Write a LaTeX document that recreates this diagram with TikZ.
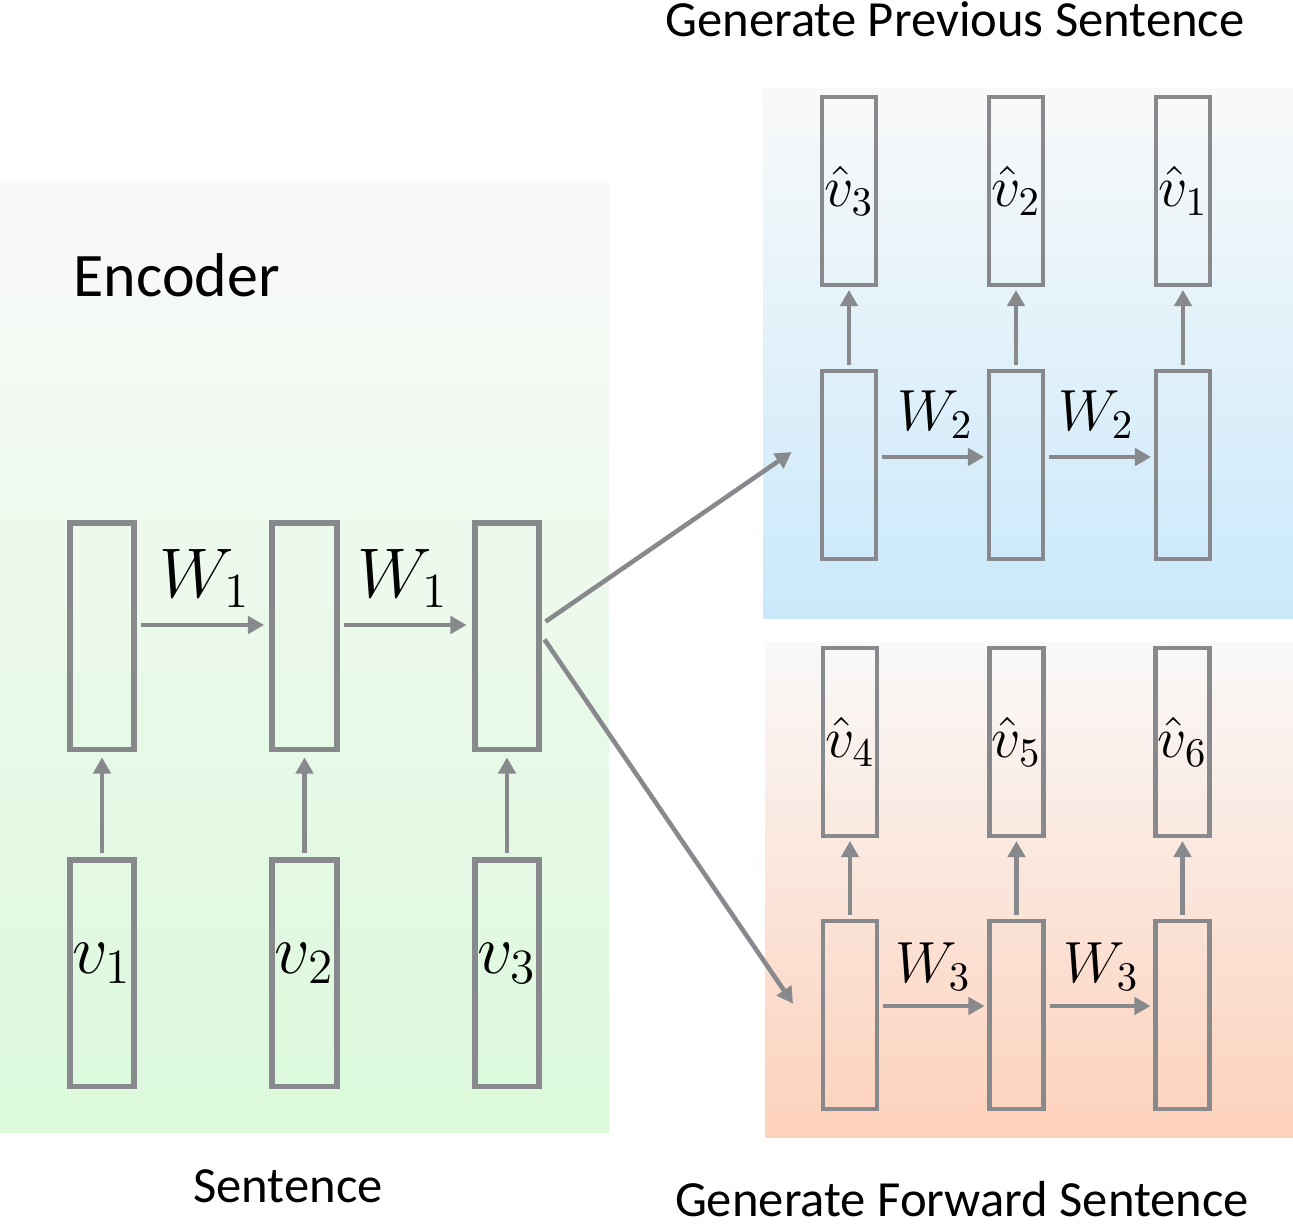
\RequirePackage{fix-cm}
\documentclass[tikz,border=0pt]{standalone}
\usepackage{fontspec}
\setmainfont{Carlito}
\usetikzlibrary{arrows.meta}

\definecolor{boxgray}{RGB}{135,137,140}
\definecolor{paletop}{RGB}{249,249,249}
\definecolor{encgreen}{RGB}{219,249,219}
\definecolor{prevblue}{RGB}{201,233,251}
\definecolor{fwdpeach}{RGB}{253,209,187}

\tikzset{
  encbox/.style={draw=boxgray, line width=1.6pt, inner sep=0pt,
    minimum width=0.645cm, minimum height=2.265cm, font=\fontsize{20}{24}\selectfont},
  decbox/.style={draw=boxgray, line width=1.2pt, inner sep=0pt,
    minimum width=0.54cm, minimum height=1.88cm, font=\fontsize{16.5}{20}\selectfont},
  arr/.style={draw=boxgray, line width=1.4pt, shorten <=1.2pt, shorten >=1.5pt,
    -{Triangle[length=4.6pt,width=4.9pt]}},
  decarr/.style={arr, line width=1.15pt, shorten >=0.8pt},
  enclabel/.style={anchor=base, inner sep=0pt, font=\fontsize{20}{24}\selectfont},
  declabel/.style={anchor=base, inner sep=0pt, font=\fontsize{16.5}{20}\selectfont},
  title/.style={anchor=base, inner sep=0pt, font=\fontsize{14.4}{17}\selectfont}
}

\begin{document}
\begin{tikzpicture}[x=0.01cm, y=-0.01cm] % pixel-like units, y going down
    \useasboundingbox (0,0) rectangle (1293,1227);

    % shaded panels
    \fill[top color=paletop, bottom color=encgreen] (0,180) rectangle (609,1132);
    \fill[top color=paletop, bottom color=prevblue] (763,88) rectangle (1293,618);
    \fill[top color=paletop, bottom color=fwdpeach] (765,641) rectangle (1293,1137);

    % texts
    \node (prevtitle) at (955,37) [title] {Generate Previous Sentence};
    \node (fwdtitle) at (962,1216) [title] {Generate Forward Sentence};
    \node (senttitle) at (288,1202) [title] {Sentence};
    \node (enctitle) at (73,296) [anchor=base west, inner sep=0pt,
      font=\fontsize{17.6}{21}\selectfont] {Encoder};

    % encoder
    \node (x1) at (102,973) [encbox] {\raisebox{0.9ex}{$v_1$}
    };
    \node (x2) at (304.5,973) [encbox] {\raisebox{0.9ex}{$v_2$}
    };
    \node (x3) at (507,973) [encbox] {\raisebox{0.9ex}{$v_3$}
    };
    \node (h1) at (102,636) [encbox] {};
    \node (h2) at (304.5,636) [encbox] {};
    \node (h3) at (507,636) [encbox] {};
    \node (wa) at (205,597) [enclabel] {$W_1$};
    \node (wb) at (403,597) [enclabel] {$W_1$};

    % previous sentence decoder
    \node (p1) at (849,465) [decbox] {};
    \node (p2) at (1016,465) [decbox] {};
    \node (p3) at (1183,465) [decbox] {};
    \node (po1) at (849,191) [decbox] {$\hat{v}_3$
    };
    \node (po2) at (1016,191) [decbox] {$\hat{v}_2$
    };
    \node (po3) at (1183,191) [decbox] {$\hat{v}_1$
    };
    \node (wc) at (935,430) [declabel] {$W_2$};
    \node (wd) at (1096,430) [declabel] {$W_2$};

    % forward sentence decoder
    \node (f1) at (850,1015) [decbox] {};
    \node (f2) at (1016.5,1015) [decbox] {};
    \node (f3) at (1182.5,1015) [decbox] {};
    \node (fo1) at (850,742) [decbox] {$\hat{v}_4$
    };
    \node (fo2) at (1016.5,742) [decbox] {$\hat{v}_5$
    };
    \node (fo3) at (1182.5,742) [decbox] {$\hat{v}_6$
    };
    \node (we) at (933,982) [declabel] {$W_3$};
    \node (wf) at (1101,982) [declabel] {$W_3$};

    \coordinate (tipprev) at (796,449);
    \coordinate (tipfwd) at (796,1008);

    % connectors
    \draw[arr] (x1) -- (h1);
    \draw[arr] (x2) -- (h2);
    \draw[arr] (x3) -- (h3);
    \draw[arr] ([yshift=0.11cm]h1.east) -- ([yshift=0.11cm]h2.west);
    \draw[arr] ([yshift=0.11cm]h2.east) -- ([yshift=0.11cm]h3.west);
    \draw[arr, line width=1.3pt] ([yshift=0.12cm]h3.east) -- (tipprev);
    \draw[arr, line width=1.3pt] (h3.east) -- (tipfwd);

    \draw[decarr] (p1) -- (po1);
    \draw[decarr] (p2) -- (po2);
    \draw[decarr] (p3) -- (po3);
    \draw[decarr] ([yshift=0.08cm]p1.east) -- ([yshift=0.08cm]p2.west);
    \draw[decarr] ([yshift=0.08cm]p2.east) -- ([yshift=0.08cm]p3.west);

    \draw[decarr] (f1) -- (fo1);
    \draw[decarr] (f2) -- (fo2);
    \draw[decarr] (f3) -- (fo3);
    \draw[decarr] ([yshift=0.09cm]f1.east) -- ([yshift=0.09cm]f2.west);
    \draw[decarr] ([yshift=0.09cm]f2.east) -- ([yshift=0.09cm]f3.west);
  \end{tikzpicture}
\end{document}
